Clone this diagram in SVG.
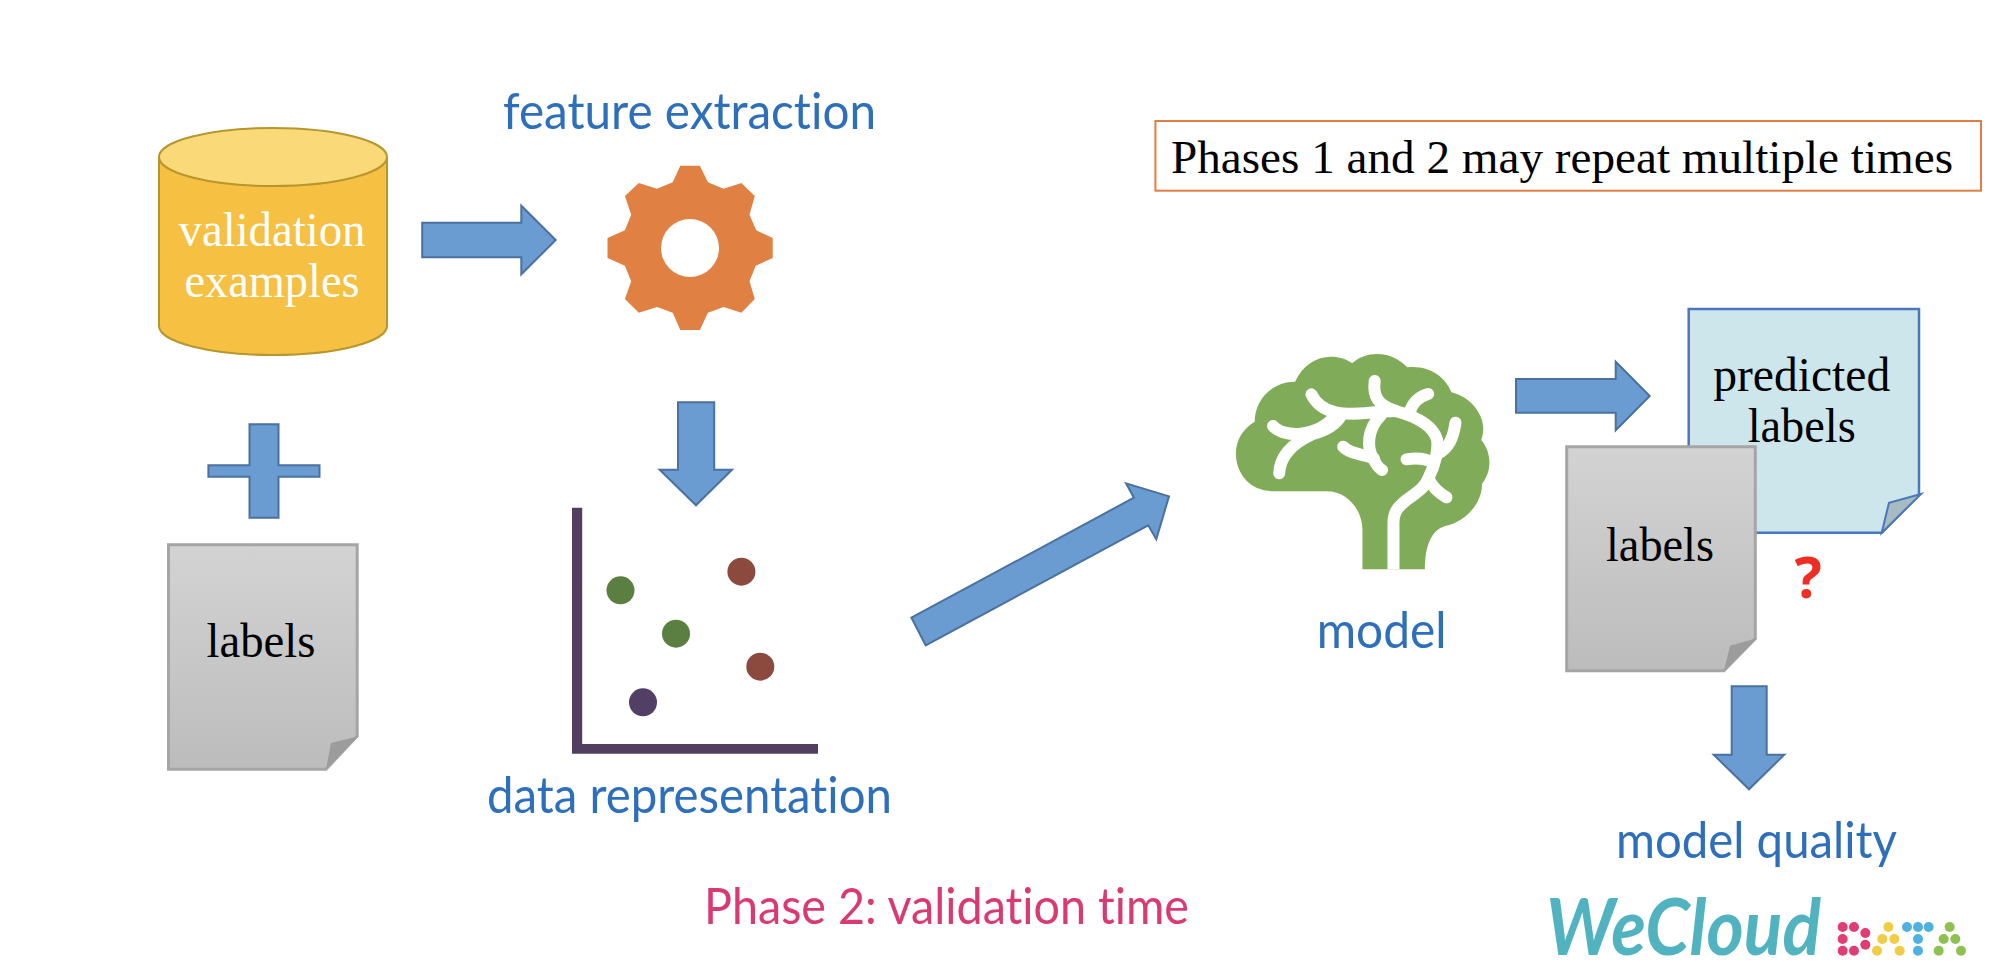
<svg xmlns="http://www.w3.org/2000/svg" width="2014" height="978" viewBox="0 0 2014 978">
<style>
.serif{font-family:"Liberation Serif","Times New Roman",serif;font-size:48px;fill:#000}
.ctr{text-anchor:middle}
.sans{font-family:Lato,"Noto Sans",sans-serif;font-size:50px;fill:#2e6fbb;font-variant-ligatures:none}
.arrow{fill:#6a9bd1;stroke:#4a719f;stroke-width:2}
.doc{fill:url(#grey);stroke:#a5a5a5;stroke-width:3}
.fold{fill:#9c9c9c}
.branch{fill:none;stroke:#fff;stroke-width:12;stroke-linecap:round;stroke-linejoin:round;vector-effect:non-scaling-stroke}
</style>
<defs>
<linearGradient id="grey" x1="0" y1="0" x2="0" y2="1"><stop offset="0" stop-color="#d3d3d3"/><stop offset="1" stop-color="#bcbcbc"/></linearGradient>
</defs>
<rect width="2014" height="978" fill="#fff"/>

<g id="connectors">
<polygon class="arrow" points="422.2,222.7 521.3,222.7 521.3,205.7 555.7,240 521.3,274.3 521.3,257.3 422.2,257.3"/>
<polygon class="arrow" points="678,402.3 714.2,402.3 714.2,469.7 732,469.7 696,505.3 659.7,469.7 678,469.7"/>
<polygon class="arrow" points="249.5,424.3 278.5,424.3 278.5,465.3 319.5,465.3 319.5,476.7 278.5,476.7 278.5,517.7 249.5,517.7 249.5,476.7 208.4,476.7 208.4,465.3 249.5,465.3"/>
<polygon class="arrow" points="911.4,617.7 1133.9,497.7 1126.1,483.3 1169,496.3 1156.3,539.3 1148.2,525.3 925.7,645.3"/>
<polygon class="arrow" points="1516,379 1615.7,379 1615.7,361.7 1649.7,396 1615.7,430.3 1615.7,412.7 1516,412.7"/>
<polygon class="arrow" points="1731.7,686.3 1766.7,686.3 1766.7,754.7 1784.3,754.7 1749,789.3 1713.7,754.7 1731.7,754.7"/>
</g>

<g id="validation-examples">
<path d="M159,157 V326 A114,29 0 0 0 387,326 V157 Z" fill="#f6c042" stroke="#b8962e" stroke-width="2"/>
<ellipse cx="273" cy="157" rx="114" ry="29" fill="#fad978" stroke="#b8962e" stroke-width="2"/>
<text class="serif ctr" x="272" y="245.7" textLength="187" lengthAdjust="spacingAndGlyphs" style="fill:#fff">validation</text>
<text class="serif ctr" x="272" y="297" textLength="175" lengthAdjust="spacingAndGlyphs" style="fill:#fff">examples</text>
</g>

<g id="feature-extraction">
<text class="sans" x="503" y="129" textLength="373" lengthAdjust="spacingAndGlyphs">feature extraction</text>
<path fill="#e08143" fill-rule="evenodd" d="M680.3,165.7 H699.9 L707.9,182.3 L723.6,188.7 L741.4,183 L754.8,196 L749.5,214.7 L756.2,230.3 L772.7,238 V258 L755.7,265.7 L749.5,281.3 L754.8,299 L741.4,312.7 L723.6,307 L707.9,312.7 L699.9,330 H680.3 L672.7,312.7 L657,307 L638.8,312.7 L624.9,299 L631.2,281.3 L624.9,265.7 L607.5,258 V238 L624.9,230.3 L631.2,214.7 L624.9,196 L638.8,183 L657,188.7 L672.7,182.3 Z M719,248 A29,29 0 1 0 661,248 A29,29 0 1 0 719,248 Z"/>
</g>

<g id="labels-left">
<path class="doc" d="M168.5,544.7 H357.2 V736 L326,769.3 H168.5 Z"/>
<polygon class="fold" points="359,736 331,743 326,769.3"/>
<text class="serif ctr" x="261" y="656.7" textLength="109" lengthAdjust="spacingAndGlyphs">labels</text>
</g>

<g id="data-representation">
<path fill="#523f5f" d="M572,507.7 H582.2 V744 H818 V753.7 H572 Z"/>
<circle cx="620.5" cy="590.3" r="14" fill="#5a7f41"/>
<circle cx="676" cy="633.7" r="14" fill="#5a7f41"/>
<circle cx="741.4" cy="571.7" r="14" fill="#8c4a3e"/>
<circle cx="760.3" cy="666.7" r="14" fill="#8c4a3e"/>
<circle cx="643" cy="702.3" r="14" fill="#523f65"/>
<text class="sans" x="487" y="813" textLength="405" lengthAdjust="spacingAndGlyphs">data representation</text>
</g>

<g id="phase-label">
<text class="sans" x="704" y="924.3" textLength="485" lengthAdjust="spacingAndGlyphs" style="fill:#d93a74">Phase 2: validation time</text>
</g>

<g id="model">
<g transform="translate(880 300) scale(.40816 .33333)">
<path fill="#80ab58" d="M1182,808 V690 C1182,630 1145,574 1095,574 H965 C905,574 872,520 872,460 C872,420 890,385 918,365 C918,300 960,245 1017,245 C1035,195 1070,170 1105,170 C1125,170 1145,178 1157,190 C1175,170 1195,162 1218,162 C1250,162 1275,180 1292,202 C1345,195 1385,230 1400,277 C1445,290 1478,340 1478,385 C1478,400 1476,410 1473,420 C1490,445 1493,470 1493,490 C1493,515 1485,535 1475,552 C1475,610 1435,665 1385,678 C1350,690 1335,740 1335,808 Z"/>
<g class="branches">
<path class="branch" style="stroke-linecap:butt" d="M1258,808 V670 C1258,635 1268,622 1290,600 C1315,577 1335,565 1345,530 C1360,495 1368,450 1365,420 C1355,375 1315,350 1263,333"/>
<path class="branch" d="M1057,283 C1080,340 1130,350 1225,335 L1263,333"/>
<path class="branch" d="M1212,243 C1207,290 1220,315 1263,333"/>
<path class="branch" d="M1343,282 C1318,290 1305,310 1298,335"/>
<path class="branch" d="M963,378 C990,415 1070,410 1110,355"/>
<path class="branch" d="M978,520 C980,470 1010,430 1060,402 C1090,392 1115,375 1128,350"/>
<path class="branch" d="M1410,368 C1405,410 1395,445 1365,462"/>
<path class="branch" d="M1290,478 C1320,472 1345,480 1358,490"/>
<path class="branch" d="M1388,592 C1365,575 1352,558 1345,538"/>
<path class="branch" d="M1135,440 C1150,462 1190,465 1210,475"/>
<path class="branch" d="M1228,345 C1195,385 1190,440 1210,480 C1218,498 1225,508 1230,510"/>
</g>
</g>
<text class="sans" x="1316.7" y="648.3" textLength="129.8" lengthAdjust="spacingAndGlyphs">model</text>
</g>

<g id="predicted-labels">
<path d="M1688.7,309 H1919 V495 L1881.7,532.7 H1688.7 Z" fill="#cde6eb" stroke="#4a76be" stroke-width="2.5"/>
<polygon points="1921,494 1889,502.7 1881.7,532.7" fill="#a6bcc0" stroke="#4a76be" stroke-width="2"/>
<text class="serif ctr" x="1801.7" y="390.7" textLength="177" lengthAdjust="spacingAndGlyphs">predicted</text>
<text class="serif ctr" x="1801.7" y="442.3" textLength="108" lengthAdjust="spacingAndGlyphs">labels</text>
</g>

<g id="labels-right">
<path class="doc" d="M1566.7,446.7 H1755.3 V638.7 L1724,670.7 H1566.7 Z"/>
<polygon class="fold" points="1757.3,638 1730,645.7 1724,670.7"/>
<text class="serif ctr" x="1660" y="560.7" textLength="108" lengthAdjust="spacingAndGlyphs">labels</text>
</g>

<g id="question-mark">
<text class="ctr" x="1808" y="598" font-family="'Noto Sans','Open Sans',sans-serif" font-weight="700" font-size="57" fill="#ee2e24">?</text>
</g>

<g id="repeat-note">
<rect x="1155.4" y="121" width="825.6" height="69.7" fill="#fff" stroke="#e07f45" stroke-width="2"/>
<text class="serif" x="1171" y="172.7" textLength="782" lengthAdjust="spacingAndGlyphs" style="font-size:46px">Phases 1 and 2 may repeat multiple times</text>
</g>

<g id="model-quality">
<text class="sans" x="1616" y="857.7" textLength="281" lengthAdjust="spacingAndGlyphs">model quality</text>
</g>

<g id="wecloud-logo">
<text x="1546" y="955" textLength="275" lengthAdjust="spacingAndGlyphs" font-family="Lato,'Noto Sans',sans-serif" font-weight="700" font-style="italic" font-size="78" fill="#52b3c0">WeCloud</text>
<g transform="translate(1520 670) scale(.33333)">
<g fill="#e03d75"><circle cx="968" cy="771" r="15"/><circle cx="1002" cy="771" r="15"/><circle cx="1036" cy="789" r="15"/><circle cx="968" cy="807" r="15"/><circle cx="1036" cy="824" r="15"/><circle cx="968" cy="842" r="15"/><circle cx="1002" cy="842" r="15"/></g>
<g fill="#f0cd45"><circle cx="1105" cy="771" r="15"/><circle cx="1087" cy="807" r="15"/><circle cx="1123" cy="807" r="15"/><circle cx="1071" cy="842" r="15"/><circle cx="1139" cy="842" r="15"/></g>
<g fill="#4fb1e0"><circle cx="1161" cy="771" r="15"/><circle cx="1194" cy="771" r="15"/><circle cx="1226" cy="771" r="15"/><circle cx="1194" cy="807" r="15"/><circle cx="1194" cy="842" r="15"/></g>
<g fill="#8fc150"><circle cx="1289" cy="771" r="15"/><circle cx="1271" cy="807" r="15"/><circle cx="1306" cy="807" r="15"/><circle cx="1256" cy="842" r="15"/><circle cx="1323" cy="842" r="15"/></g>
</g>
</g>
</svg>
